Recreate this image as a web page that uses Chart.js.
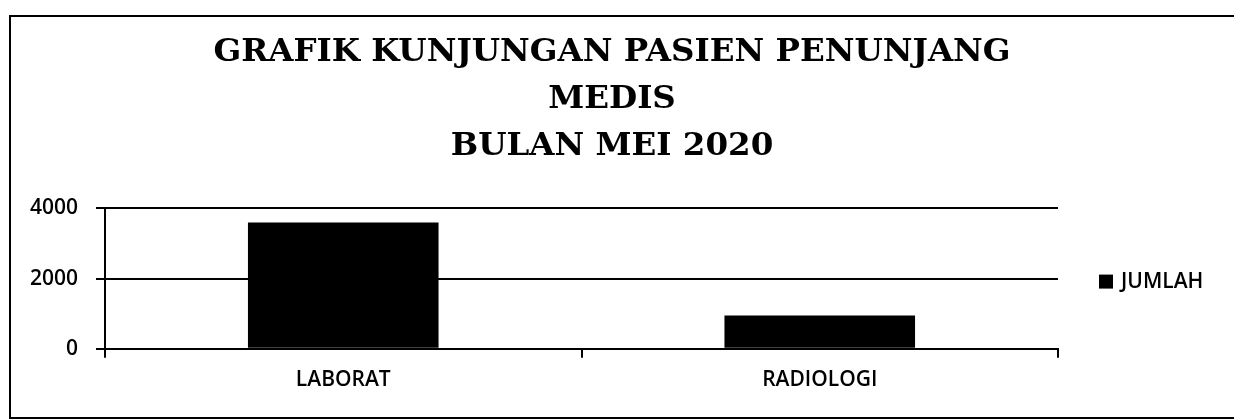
<!DOCTYPE html>
<html>
<head>
<meta charset="utf-8">
<script src="https://cdn.jsdelivr.net/npm/chart.js@4"></script>
<style>
  html, body { margin: 0; padding: 0; background: #fff; }
  #wrap { position: relative; width: 1234px; height: 420px; overflow: hidden; }
  #frame { position: absolute; left: 9px; top: 15px; width: 1240px; height: 400px;
           border-top: 2px solid #000; border-left: 2px solid #000; border-bottom: 2px solid #000; }
  canvas { position: absolute; left: 0; top: 0; }
</style>
</head>
<body>
<div id="wrap">
  <div id="frame"></div>
  <canvas id="c" width="1234" height="420"></canvas>
</div>
<script>
const titleLines = ["GRAFIK KUNJUNGAN PASIEN PENUNJANG", "MEDIS", "BULAN MEI 2020"];
const categories = ["LABORAT", "RADIOLOGI"];
const seriesName = "JUMLAH";
const jumlah = [3600, 950];
const yTicks = [0, 2000, 4000];

const sideLegend = {
  id: 'sideLegend',
  afterDraw(chart) {
    const ctx = chart.ctx;
    const a = chart.chartArea;
    const ds = chart.data.datasets[0];
    const y = (a.top + a.bottom) / 2 + 3;
    ctx.save();
    ctx.fillStyle = ds.backgroundColor;
    ctx.fillRect(a.right + 41, y - 7, 14, 14);
    ctx.fillStyle = '#000';
    ctx.font = '600 21px "Open Sans"';
    ctx.textBaseline = 'middle';
    ctx.textAlign = 'left';
    ctx.fillText(ds.label, a.right + 63, y);
    ctx.restore();
  }
};

new Chart(document.getElementById('c'), {
  type: 'bar',
  data: {
    labels: categories,
    datasets: [{
      label: seriesName,
      data: jumlah,
      backgroundColor: '#000',
      borderWidth: 0,
      barPercentage: 0.8,
      categoryPercentage: 0.5
    }]
  },
  plugins: [sideLegend],
  options: {
    responsive: false,
    animation: false,
    layout: { padding: { left: 0, right: 10, top: 29, bottom: 17 } },
    plugins: {
      title: {
        display: true,
        text: titleLines,
        color: '#000',
        font: { family: 'DejaVu Serif', weight: 'bold', size: 32.5, lineHeight: 1.45 },
        padding: { top: 0, bottom: 38 }
      },
      legend: { display: false },
      tooltip: { enabled: false }
    },
    scales: {
      x: {
        offset: true,
        grid: { display: true, offset: true, drawOnChartArea: false, color: '#000', lineWidth: 2, tickLength: 9 },
        border: { display: true, color: '#000', width: 2 },
        ticks: { color: '#000', font: { family: 'Open Sans', size: 21, weight: '600' }, padding: 10 }
      },
      y: {
        min: 0, max: 4000,
        afterBuildTicks: (s) => { s.ticks = yTicks.map(v => ({ value: v })); },
        afterFit: (s) => { s.width = 105; },
        grid: { color: '#000', lineWidth: 2, tickLength: 9 },
        border: { display: true, color: '#000', width: 2 },
        ticks: { color: '#000', font: { family: 'Open Sans', size: 21, weight: '600' }, padding: 18,
                 callback: (v) => String(v) }
      },
      legendSpace: {
        type: 'linear',
        position: 'right',
        display: true,
        grid: { display: false, drawTicks: false },
        border: { display: false },
        ticks: { display: false },
        afterFit: (s) => { s.width = 166; }
      }
    }
  }
});
</script>
</body>
</html>
